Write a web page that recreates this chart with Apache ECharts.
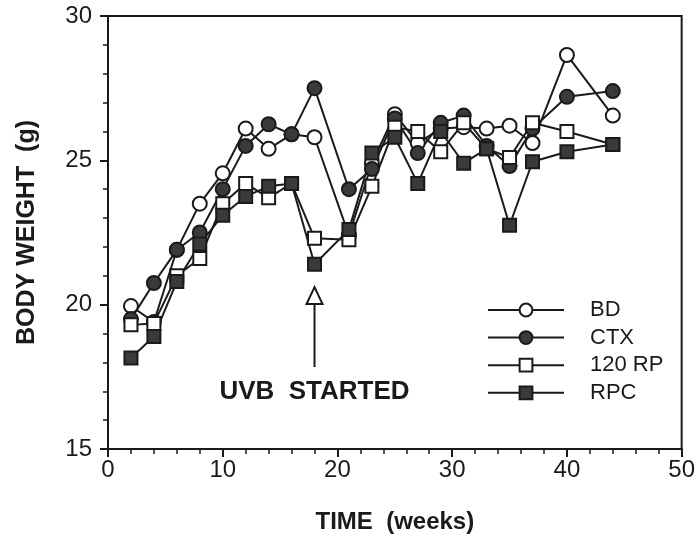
<!DOCTYPE html>
<html>
<head>
<meta charset="utf-8">
<script src="https://cdn.jsdelivr.net/npm/echarts@6/dist/echarts.min.js"></script>
<style>html,body{margin:0;padding:0;background:#fff}#c{width:698px;height:540px}</style>
</head>
<body>
<div id="c"></div>
<script>
const weeks = [2,4,6,8,10,12,14,16,18,21,23,25,27,29,31,33,35,37,40,44];
const BD   = [19.95,19.4,21.9,23.5,24.55,26.1,25.4,25.9,25.8,22.4,24.9,26.6,25.6,26.1,26.15,26.1,26.2,25.6,28.65,26.55];
const CTX  = [19.5,20.75,21.9,22.5,24.0,25.5,26.25,25.9,27.5,24.0,24.7,26.45,25.25,26.3,26.55,25.5,24.8,26.1,27.2,27.4];
const RP120= [19.3,19.35,21.0,21.6,23.5,24.2,23.7,24.2,22.3,22.25,24.1,26.15,26.0,25.3,26.3,25.4,25.1,26.3,26.0,25.55];
const RPC  = [18.15,18.9,20.8,22.1,23.1,23.75,24.1,24.2,21.4,22.6,25.25,25.8,24.2,26.0,24.9,25.4,22.75,24.95,25.3,25.55];
const seriesNames = ['BD','CTX','120 RP','RPC'];
const xTicks = [0,10,20,30,40,50];
const yTicks = [15,20,25,30];
// annotation: [week, arrow base, arrow tip, text level]
const arrowData = [[18, 17.84, 20.61, 16.98]];
const annotText = 'UVB  STARTED';

const FONT = '"Liberation Sans", Arial, Helvetica, sans-serif';
const INK = '#1a1a1a';
const FILL = '#3a3a3a';

function pairs(ys){ return weeks.map((w,i)=>[w, ys[i]]); }

function lineSeries(name, ys, symbol, filled, size){
  return {
    name, type:'line', data: pairs(ys), symbol, symbolSize: size,
    showAllSymbol:true,
    lineStyle:{color:INK, width:2},
    itemStyle:{color: filled ? FILL : '#fff', borderColor: INK, borderWidth: 2, opacity:1},
    emphasis:{disabled:true}
  };
}

const chart = echarts.init(document.getElementById('c'), null, {renderer:'canvas'});
chart.setOption({
  animation:false,
  backgroundColor:'#fff',
  grid:{left:108, right:14, top:16, bottom:91, show:true, borderColor:INK, borderWidth:2, backgroundColor:'transparent'},
  legend:{
    data: seriesNames, orient:'vertical', left:482, top:294,
    itemWidth:76, itemHeight:16, itemGap:5.6,
    textStyle:{fontFamily:FONT, fontSize:22, lineHeight:22, color:INK, padding:[0,0,0,21]},
    selectedMode:false
  },
  xAxis:{
    type:'value', min:0, max:50, interval:10,
    axisLine:{lineStyle:{color:INK, width:2}},
    axisTick:{length:8, lineStyle:{color:INK, width:2}},
    minorTick:{show:true, splitNumber:5, length:5, lineStyle:{color:INK, width:1.5}},
    splitLine:{show:false},
    axisLabel:{fontFamily:FONT, fontSize:24, color:INK, margin:9,
      formatter:v => xTicks.includes(v) ? String(v) : ''},
    name:'TIME  (weeks)', nameLocation:'middle', nameGap:61,
    nameTextStyle:{fontFamily:FONT, fontSize:24, fontWeight:'bold', color:INK}
  },
  yAxis:{
    type:'value', min:15, max:30, interval:5,
    axisLine:{lineStyle:{color:INK, width:2}},
    axisTick:{length:8, lineStyle:{color:INK, width:2}},
    minorTick:{show:true, splitNumber:5, length:5, lineStyle:{color:INK, width:1.5}},
    splitLine:{show:false},
    axisLabel:{fontFamily:FONT, fontSize:24, color:INK, margin:16,
      formatter:v => yTicks.includes(v) ? String(v) : ''},
    name:'BODY WEIGHT  (g)', nameLocation:'middle', nameGap:68,
    nameTextStyle:{fontFamily:FONT, fontSize:25, fontWeight:'bold', color:INK}
  },
  series:[
    lineSeries('BD', BD, 'circle', false, 14),
    lineSeries('CTX', CTX, 'circle', true, 14),
    lineSeries('120 RP', RP120, 'rect', false, 13),
    lineSeries('RPC', RPC, 'rect', true, 13),
    {
      type:'custom', name:'annot', data: arrowData, silent:true, z:5,
      renderItem:function(params, api){
        const base = api.coord([api.value(0), api.value(1)]);
        const tip = api.coord([api.value(0), api.value(2)]);
        const txt = api.coord([api.value(0), api.value(3)]);
        const h = 17, w = 8;
        return {type:'group', children:[
          {type:'line', shape:{x1:base[0], y1:base[1], x2:tip[0], y2:tip[1]+h}, style:{stroke:INK, lineWidth:2}},
          {type:'polygon', shape:{points:[[tip[0],tip[1]],[tip[0]-w,tip[1]+h],[tip[0]+w,tip[1]+h]]}, style:{fill:'#fff', stroke:INK, lineWidth:2}},
          {type:'text', x:txt[0], y:txt[1], style:{text:annotText, fontFamily:FONT, fontSize:26, fontWeight:'bold', fill:INK, align:'center', verticalAlign:'middle'}}
        ]};
      }
    }
  ]
});
</script>
</body>
</html>
